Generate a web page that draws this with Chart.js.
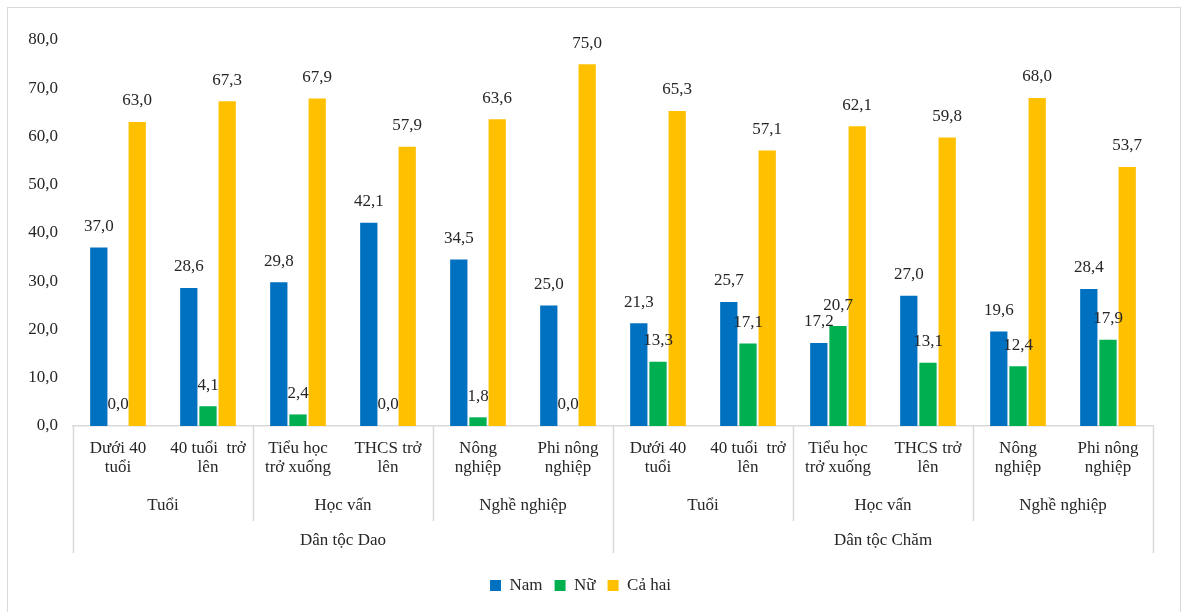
<!DOCTYPE html>
<html>
<head>
<meta charset="utf-8">
<script src="https://cdn.jsdelivr.net/npm/chart.js@4.4.1/dist/chart.umd.min.js"></script>
<style>
  html, body { margin: 0; padding: 0; background: #fff; }
  #wrap { position: relative; width: 1182px; height: 612px; overflow: hidden; }
  #frame { position: absolute; left: 7px; top: 7px; width: 1174px; height: 640px; border: 1px solid #d9d9d9; box-sizing: border-box; }
  canvas { position: absolute; left: 0; top: 0; }
</style>
</head>
<body>
<div id="wrap">
  <div id="frame"></div>
  <canvas id="chart" width="1182" height="612"></canvas>
</div>
<script>
  // sub-category labels (first axis row)
  const categories = [
    ['Dưới 40', 'tuổi'], ['40 tuổi  trở', 'lên'],
    ['Tiểu học', 'trở xuống'], ['THCS trở', 'lên'],
    ['Nông', 'nghiệp'], ['Phi nông', 'nghiệp'],
    ['Dưới 40', 'tuổi'], ['40 tuổi  trở', 'lên'],
    ['Tiểu học', 'trở xuống'], ['THCS trở', 'lên'],
    ['Nông', 'nghiệp'], ['Phi nông', 'nghiệp']
  ];
  // second and third axis rows
  const groupLabels = ['Tuổi', 'Học vấn', 'Nghề nghiệp', 'Tuổi', 'Học vấn', 'Nghề nghiệp'];
  const groupSize = 2;
  const ethnicLabels = ['Dân tộc Dao', 'Dân tộc Chăm'];
  const ethnicSize = 6;

  const namValues = [37.0, 28.6, 29.8, 42.1, 34.5, 25.0, 21.3, 25.7, 17.2, 27.0, 19.6, 28.4];
  const nuValues = [0.0, 4.1, 2.4, 0.0, 1.8, 0.0, 13.3, 17.1, 20.7, 13.1, 12.4, 17.9];
  const caHaiValues = [63.0, 67.3, 67.9, 57.9, 63.6, 75.0, 65.3, 57.1, 62.1, 59.8, 68.0, 53.7];

  const yTicks = [0, 10, 20, 30, 40, 50, 60, 70, 80];

  const FONT = '"Liberation Serif", "Times New Roman", serif';
  const TEXT = '#262626';
  const LINE = '#d9d9d9';

  const fmt = (v) => v.toFixed(1).replace('.', ',');

  // value labels above each bar
  const valueLabels = {
    id: 'valueLabels',
    afterDatasetsDraw(chart) {
      const ctx = chart.ctx;
      ctx.save();
      ctx.font = '17px ' + FONT;
      ctx.fillStyle = TEXT;
      ctx.textAlign = 'center';
      ctx.textBaseline = 'middle';
      chart.data.datasets.forEach((ds, i) => {
        chart.getDatasetMeta(i).data.forEach((bar, j) => {
          ctx.fillText(fmt(ds.data[j]), bar.x, bar.y - 21);
        });
      });
      ctx.restore();
    }
  };

  // multi-level category axis: separators + group rows
  const groupAxis = {
    id: 'groupAxis',
    afterDraw(chart) {
      const ctx = chart.ctx;
      const x = chart.scales.x;
      const area = chart.chartArea;
      const y0 = area.bottom;
      const n = categories.length;
      const edge = (k) => {
        if (k <= 0) return area.left;
        if (k >= n) return area.right;
        return (x.getPixelForValue(k - 1) + x.getPixelForValue(k)) / 2;
      };
      ctx.save();
      ctx.strokeStyle = LINE;
      ctx.lineWidth = 1.5;
      for (let k = 0; k <= n; k += groupSize) {
        const outer = k % ethnicSize === 0;
        const px = Math.round(edge(k)) + 0.5;
        ctx.beginPath();
        ctx.moveTo(px, y0);
        ctx.lineTo(px, outer ? y0 + 127 : y0 + 95);
        ctx.stroke();
      }
      ctx.font = '17px ' + FONT;
      ctx.fillStyle = TEXT;
      ctx.textAlign = 'center';
      ctx.textBaseline = 'middle';
      groupLabels.forEach((lab, g) => {
        const cx = (edge(g * groupSize) + edge((g + 1) * groupSize)) / 2;
        ctx.fillText(lab, cx, y0 + 80);
      });
      ethnicLabels.forEach((lab, g) => {
        const cx = (edge(g * ethnicSize) + edge((g + 1) * ethnicSize)) / 2;
        ctx.fillText(lab, cx, y0 + 115);
      });
      ctx.restore();
    }
  };

  new Chart(document.getElementById('chart'), {
    type: 'bar',
    data: {
      labels: categories,
      datasets: [
        { label: 'Nam', data: namValues, backgroundColor: '#0070C0' },
        { label: 'Nữ', data: nuValues, backgroundColor: '#00B050' },
        { label: 'Cả hai', data: caHaiValues, backgroundColor: '#FFC000' }
      ]
    },
    options: {
      responsive: false,
      animation: false,
      events: [],
      layout: { padding: { left: 8, right: 29, top: 40, bottom: 8 } },
      datasets: { bar: { categoryPercentage: 0.64, barPercentage: 0.9 } },
      plugins: {
        legend: {
          position: 'bottom',
          labels: {
            font: { family: FONT, size: 17 },
            color: TEXT,
            boxWidth: 11,
            boxHeight: 11,
            padding: 12
          }
        },
        tooltip: { enabled: false }
      },
      scales: {
        x: {
          grid: { display: false, drawTicks: false },
          border: { display: true, color: LINE, width: 1.5 },
          ticks: {
            font: { family: FONT, size: 17, lineHeight: 1.1 },
            color: TEXT,
            padding: 13,
            maxRotation: 0,
            autoSkip: false
          },
          afterFit: (scale) => { scale.height = 139; }
        },
        y: {
          min: 0,
          max: 80,
          grid: { display: false, drawTicks: false },
          border: { display: false },
          afterBuildTicks: (scale) => { scale.ticks = yTicks.map((v) => ({ value: v })); },
          ticks: {
            font: { family: FONT, size: 17 },
            color: TEXT,
            padding: 15,
            callback: (v) => fmt(v)
          },
          afterFit: (scale) => { scale.width = 65; }
        }
      }
    },
    plugins: [valueLabels, groupAxis]
  });
</script>
</body>
</html>
